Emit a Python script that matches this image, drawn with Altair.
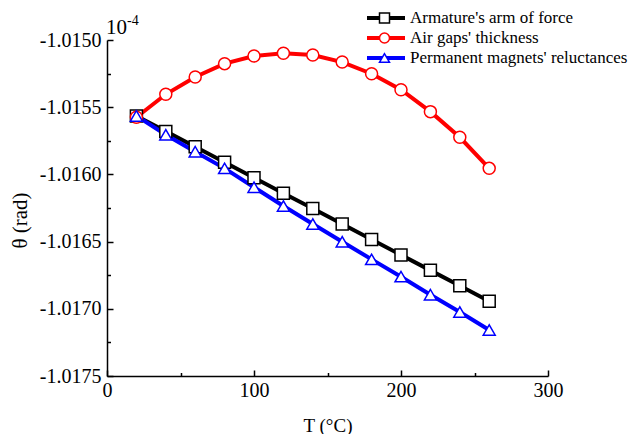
import altair as alt
import pandas as pd

T = [20, 40, 60, 80, 100, 120, 140, 160, 180, 200, 220, 240, 260]
series_names = ["Armature's arm of force", "Air gaps' thickness", "Permanent magnets' reluctances"]
armature = [-1.015565, -1.015680, -1.015795, -1.015910, -1.016025, -1.016140, -1.016254,
            -1.016369, -1.016484, -1.016599, -1.016714, -1.016829, -1.016944]
air_gap = [-1.015575, -1.015404, -1.015275, -1.015176, -1.015119, -1.015099, -1.015112,
           -1.015164, -1.015251, -1.015370, -1.015533, -1.015724, -1.015955]
magnets = [-1.015565, -1.015705, -1.015831, -1.015955, -1.016096, -1.016235, -1.016369,
           -1.016501, -1.016632, -1.016761, -1.016895, -1.017024, -1.017158]
colors = ["#000000", "#ff0000", "#0000ff"]
shapes = ["square", "circle", "triangle-up"]
y_labels = [-1.0150, -1.0155, -1.0160, -1.0165, -1.0170, -1.0175]
x_labels = [0, 100, 200, 300]
y_ticks = [-1.0150 - 0.00025 * i for i in range(11)]
x_ticks = [0, 50, 100, 150, 200, 250, 300]

# marker legend uses a separate domain so it is not merged with the line legend
marker_names = [n + " " for n in series_names]

rows = []
for name, mname, vals in zip(series_names, marker_names, [armature, air_gap, magnets]):
    for t, v in zip(T, vals):
        rows.append({"T": t, "theta": v, "series": name, "series_m": mname})
df = pd.DataFrame(rows)

FONT = "Liberation Serif"
W, H = 441, 336
LEG_FS = 17
LEG_Y = -32
LEG_X = 258

xs = alt.Scale(domain=[0, 300], nice=False, zero=False)
ys = alt.Scale(domain=[-1.0175, -1.0150], nice=False, zero=False)

base = alt.Chart(df)

lines = base.mark_line(strokeWidth=4).encode(
    x=alt.X("T:Q", scale=xs, title="T (°C)",
            axis=alt.Axis(values=x_labels, ticks=False, grid=False, domainColor="black",
                          domainWidth=1.5, labelFont=FONT, labelFontSize=20, labelColor="black",
                          labelPadding=4, labelFlush=False, format="d", titleFont=FONT,
                          titleFontSize=19, titleFontWeight="normal", titleColor="black",
                          titleY=49, titleBaseline="middle")),
    y=alt.Y("theta:Q", scale=ys, title="θ (rad)",
            axis=alt.Axis(values=y_labels, ticks=False, grid=False, domainColor="black",
                          domainWidth=1.5, labelFont=FONT, labelFontSize=20, labelColor="black",
                          labelPadding=6, labelFlush=False,
                          labelExpr="'-' + format(abs(datum.value), '.4f')",
                          titleFont=FONT, titleFontSize=21, titleFontWeight="normal",
                          titleColor="black", titleX=-87, titleY=180, titleAngle=270,
                          titleBaseline="middle", titleAlign="center")),
    color=alt.Color("series:N", scale=alt.Scale(domain=series_names, range=colors),
                    legend=alt.Legend(title=None, orient="none", legendX=LEG_X, legendY=LEG_Y,
                                      symbolType="stroke", symbolSize=1444, symbolStrokeWidth=4,
                                      labelFont=FONT, labelFontSize=LEG_FS, labelColor="black",
                                      labelOffset=3, clipHeight=20, rowPadding=0, padding=0,
                                      labelLimit=400)),
    detail="series:N",
)

marker_legend = alt.Legend(title=None, orient="none", legendX=LEG_X + 11, legendY=LEG_Y,
                           symbolSize=100, symbolStrokeWidth=1.5, symbolFillColor="white",
                           labelFont=FONT, labelFontSize=LEG_FS, labelExpr="''", labelOffset=0,
                           clipHeight=20, rowPadding=0, padding=0)

points = base.mark_point(filled=True, fill="white", size=144, strokeWidth=1.5, opacity=1).encode(
    x=alt.X("T:Q", scale=xs, axis=None),
    y=alt.Y("theta:Q", scale=ys, axis=None),
    stroke=alt.Stroke("series_m:N", scale=alt.Scale(domain=marker_names, range=colors),
                      legend=marker_legend),
    shape=alt.Shape("series_m:N", scale=alt.Scale(domain=marker_names, range=shapes),
                    legend=marker_legend),
)

tick_layer = base.mark_point(opacity=0).encode(
    x=alt.X("T:Q", scale=xs,
            axis=alt.Axis(orient="top", offset=-H, values=x_ticks, labels=False, domain=False,
                          grid=False, title=None, tickColor="black", tickWidth=1.5,
                          tickSize={"condition": {"test": "datum.value % 100 == 0", "value": 6},
                                    "value": 3.5})),
    y=alt.Y("theta:Q", scale=ys,
            axis=alt.Axis(orient="right", offset=-W, values=y_ticks, labels=False, domain=False,
                          grid=False, title=None, tickColor="black", tickWidth=1.5,
                          tickSize={"condition": {"test": "abs(datum.value*2000 - round(datum.value*2000)) < 0.01",
                                                  "value": 6},
                                    "value": 3.5})),
)

one = pd.DataFrame({"a": [0]})
exp_main = alt.Chart(one).mark_text(font=FONT, fontSize=21, align="left", baseline="alphabetic",
                                    color="black").encode(
    x=alt.value(-1), y=alt.value(-6), text=alt.value("10"))
exp_sup = alt.Chart(one).mark_text(font=FONT, fontSize=14, align="left", baseline="alphabetic",
                                   color="black").encode(
    x=alt.value(20), y=alt.value(-15), text=alt.value("-4"))

chart = alt.layer(lines, points, tick_layer, exp_main, exp_sup).resolve_axis(
    x="independent", y="independent"
).properties(
    width=W, height=H,
    autosize=alt.AutoSizeParams(type="none"),
    padding={"left": 99, "top": 32, "right": 82, "bottom": 58},
).configure_view(strokeOpacity=0)

chart.save("out.html", embed_options={"renderer": "svg", "actions": False})
